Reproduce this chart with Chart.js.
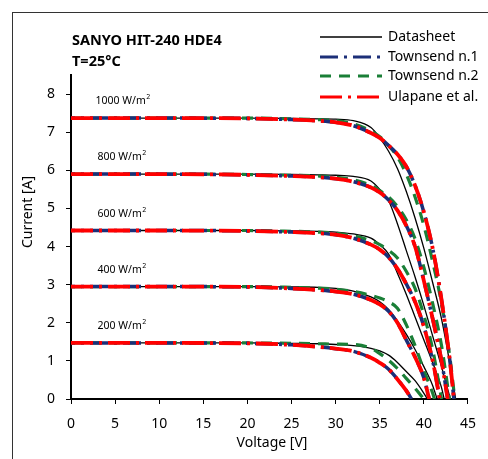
<!DOCTYPE html>
<html>
<head>
<meta charset="utf-8">
<script src="https://cdn.jsdelivr.net/npm/chart.js@4/dist/chart.umd.min.js"></script>
<style>
  html, body { margin: 0; padding: 0; background: #fff; }
  #wrap { width: 488px; height: 459px; position: relative; }
</style>
</head>
<body>
<div id="wrap"><canvas id="iv"></canvas></div>
<script>
// voltage points (V) shared by all curves, currents (A)
const voltGrid = [0, 10, 20, 25, 28, 30, 32, 34, 35, 36, 37, 38, 39, 40, 41, 42, 43];
const irradiance = [1000, 800, 600, 400, 200];
const isc = [7.37, 5.9, 4.42, 2.95, 1.47];

const datasheetVoc = [43.6, 43.0, 42.3, 41.5, 40.4];
const datasheetI = [
  [7.37, 7.37, 7.37, 7.36, 7.35, 7.34, 7.30, 7.12, 6.85, 6.50, 6.05, 5.45, 4.75, 3.95, 3.05, 2.10, 0.85],
  [5.90, 5.90, 5.90, 5.89, 5.88, 5.87, 5.84, 5.72, 5.50, 5.20, 4.60, 3.90, 3.20, 2.45, 1.65, 0.85],
  [4.42, 4.42, 4.42, 4.41, 4.40, 4.38, 4.33, 4.22, 4.05, 3.80, 3.30, 2.75, 2.15, 1.55, 0.95, 0.30],
  [2.95, 2.95, 2.95, 2.94, 2.93, 2.90, 2.83, 2.68, 2.55, 2.35, 2.05, 1.70, 1.30, 0.85, 0.35],
  [1.47, 1.47, 1.47, 1.46, 1.45, 1.43, 1.40, 1.33, 1.26, 1.15, 0.96, 0.72, 0.48, 0.15]
];

// Townsend n.1 and Ulapane et al. lie on top of each other
const model1Voc = [43.4, 42.7, 41.8, 40.6, 38.6];
const model1I = [
  [7.37, 7.37, 7.36, 7.33, 7.30, 7.26, 7.17, 6.98, 6.85, 6.65, 6.42, 6.10, 5.60, 4.90, 3.95, 2.60, 0.90],
  [5.90, 5.90, 5.88, 5.85, 5.82, 5.78, 5.70, 5.55, 5.42, 5.22, 4.95, 4.55, 4.00, 3.10, 2.10, 1.00],
  [4.42, 4.42, 4.41, 4.38, 4.35, 4.31, 4.22, 4.05, 3.92, 3.72, 3.42, 3.02, 2.55, 1.90, 1.00],
  [2.95, 2.95, 2.94, 2.90, 2.86, 2.82, 2.75, 2.60, 2.48, 2.30, 2.00, 1.55, 1.10, 0.55],
  [1.47, 1.47, 1.46, 1.42, 1.37, 1.32, 1.25, 1.08, 0.95, 0.78, 0.52, 0.22]
];
const ulapaneVoc = model1Voc;
const ulapaneI = model1I;

const model2Voc = [43.5, 42.9, 42.0, 41.2, 40.0];
const model2I = [
  [7.37, 7.37, 7.37, 7.35, 7.33, 7.30, 7.22, 7.03, 6.88, 6.65, 6.35, 5.90, 5.30, 4.55, 3.60, 2.50, 1.00],
  [5.90, 5.90, 5.89, 5.87, 5.85, 5.82, 5.75, 5.60, 5.47, 5.30, 5.05, 4.70, 4.20, 3.45, 2.50, 1.40],
  [4.42, 4.42, 4.42, 4.40, 4.38, 4.35, 4.28, 4.15, 4.05, 3.90, 3.70, 3.35, 2.90, 2.20, 1.30],
  [2.95, 2.95, 2.95, 2.93, 2.91, 2.88, 2.82, 2.72, 2.65, 2.55, 2.38, 1.95, 1.40, 0.75, 0.15],
  [1.47, 1.47, 1.47, 1.46, 1.45, 1.44, 1.43, 1.33, 1.19, 1.02, 0.80, 0.54, 0.28]
];

const xTicks = [0, 5, 10, 15, 20, 25, 30, 35, 40, 45];
const yTicks = [0, 1, 2, 3, 4, 5, 6, 7, 8];

const FONT = "'Noto Sans', sans-serif";

// one series per model, styles for the lines
const series = [
  { label: "Datasheet", currents: datasheetI, voc: datasheetVoc, color: "#000000", width: 1.3, dash: [], offset: 0, order: 3 },
  { label: "Townsend n.1", currents: model1I, voc: model1Voc, color: "#1c2f78", width: 3.5, dash: [18, 6, 3, 6], offset: 14, order: 1 },
  { label: "Townsend n.2", currents: model2I, voc: model2Voc, color: "#1a7f37", width: 3.2, dash: [11, 8], offset: 0, order: 2 },
  { label: "Ulapane et al.", currents: ulapaneI, voc: ulapaneVoc, color: "#ff0000", width: 3.8, dash: [22, 6, 3, 6], offset: 0, order: 0 }
];

function curve(currents, voc) {
  const pts = currents.map((c, i) => ({ x: voltGrid[i], y: c }));
  pts.push({ x: voc, y: 0 });
  return pts;
}

const datasets = [];
series.forEach((s) => {
  irradiance.forEach((g, i) => {
    datasets.push({
      label: s.label + " " + g,
      data: curve(s.currents[i], s.voc[i]),
      borderColor: s.color,
      borderWidth: s.width,
      borderDash: s.dash,
      borderDashOffset: s.offset,
      borderCapStyle: "butt",
      pointRadius: 0,
      fill: false,
      cubicInterpolationMode: "monotone",
      order: s.order
    });
  });
});

// frame, titles, irradiance labels and legend
const decorations = {
  id: "decorations",
  afterDraw(chart) {
    const ctx = chart.ctx;
    const xs = chart.scales.x;
    const ys = chart.scales.y;
    ctx.save();

    ctx.strokeStyle = "#333";
    ctx.lineWidth = 1;
    ctx.strokeRect(12.5, 12.5, 600, 600);

    ctx.fillStyle = "#000";
    ctx.font = "bold 14.5px " + FONT;
    ctx.textBaseline = "middle";
    ctx.textAlign = "left";
    ctx.fillText("SANYO HIT-240 HDE4", 72, 41);
    ctx.fillText("T=25°C", 72, 62);

    // axis titles
    ctx.font = "14px " + FONT;
    ctx.textAlign = "center";
    ctx.fillText("Voltage [V]", 272, 443);
    ctx.save();
    ctx.translate(28, 212);
    ctx.rotate(-Math.PI / 2);
    ctx.fillText("Current [A]", 0, 0);
    ctx.restore();

    // irradiance labels above each curve
    irradiance.forEach((g, i) => {
      const px = xs.getPixelForValue(3) + (g === 1000 ? -2 : 0);
      const py = ys.getPixelForValue(isc[i]) - 17;
      ctx.font = "10.5px " + FONT;
      ctx.textAlign = "left";
      const txt = g + " W/m";
      ctx.fillText(txt, px, py);
      const w = ctx.measureText(txt).width;
      ctx.font = "7px " + FONT;
      ctx.fillText("2", px + w + 0.5, py - 4);
    });

    // legend
    const rows = [37, 57, 76, 97];
    series.forEach((s, i) => {
      const y = rows[i];
      ctx.beginPath();
      ctx.strokeStyle = s.color;
      ctx.lineWidth = s.width === 1.3 ? 1.5 : 3.2;
      ctx.setLineDash(s.dash);
      ctx.lineDashOffset = 0;
      ctx.moveTo(320, y);
      ctx.lineTo(382, y);
      ctx.stroke();
      ctx.setLineDash([]);
      ctx.fillStyle = "#000";
      ctx.font = "14px " + FONT;
      ctx.textAlign = "left";
      ctx.fillText(s.label, 388, y);
    });

    ctx.restore();
  }
};

new Chart(document.getElementById("iv"), {
  type: "line",
  data: { datasets: datasets },
  options: {
    responsive: true,
    maintainAspectRatio: false,
    animation: false,
    parsing: true,
    layout: { padding: { left: 0, top: 75, right: 17, bottom: 0 } },
    plugins: { legend: { display: false }, tooltip: { enabled: false }, title: { display: false } },
    scales: {
      x: {
        type: "linear",
        min: 0,
        max: 45,
        afterBuildTicks: (scale) => { scale.ticks = xTicks.map((v) => ({ value: v })); },
        afterFit: (scale) => { scale.height = 60; },
        ticks: { color: "#000", font: { family: FONT, size: 14 }, padding: 12, maxRotation: 0 },
        grid: { display: true, drawOnChartArea: false, drawTicks: true, tickLength: 5, tickColor: "#000", tickWidth: 1 },
        border: { display: true, color: "#000", width: 2 }
      },
      y: {
        type: "linear",
        min: 0,
        max: 8.5,
        afterBuildTicks: (scale) => { scale.ticks = yTicks.map((v) => ({ value: v })); },
        afterFit: (scale) => { scale.width = 71; },
        ticks: { color: "#000", font: { family: FONT, size: 14 }, padding: 11 },
        grid: { display: true, drawOnChartArea: false, drawTicks: true, tickLength: 5, tickColor: "#000", tickWidth: 1 },
        border: { display: true, color: "#000", width: 2 }
      }
    }
  },
  plugins: [decorations]
});
</script>
</body>
</html>
